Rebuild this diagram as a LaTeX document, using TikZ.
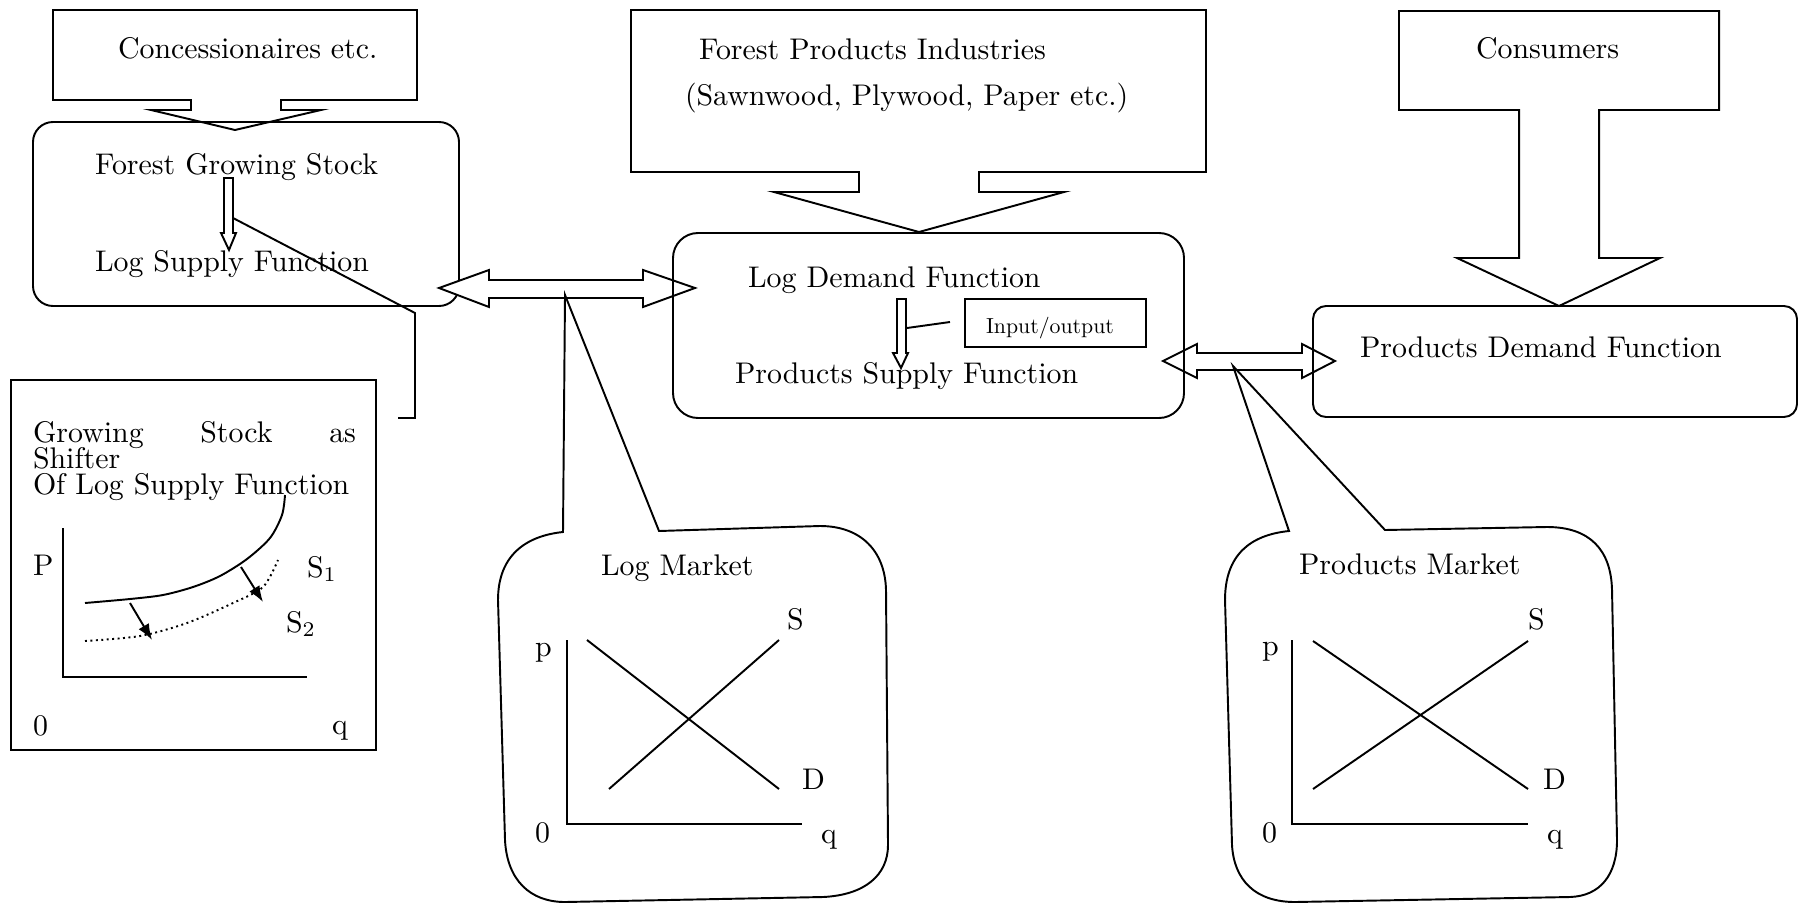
\documentclass[tikz,border=0pt]{standalone}
\usetikzlibrary{arrows.meta}
\newcommand{\lbltxt}[1]{\scalebox{0.85}{#1}}
\begin{document}
\begin{tikzpicture}[x=0.1mm,y=-0.1mm,line width=0.55pt,line join=miter,
  txt/.style={inner sep=0pt,outer sep=0pt,font=\fontsize{10}{12}\selectfont},
  smalltxt/.style={inner sep=0pt,outer sep=0pt,font=\fontsize{10}{12}\selectfont},
  blockshape/.style={draw=black,fill=white},
  shiftarrow/.style={-{Latex[length=1.6mm,width=1.2mm]}}]
\useasboundingbox (0,0) rectangle (1798,903);
\fill[white] (0,0) rectangle (1798,903);

% ---------- Concessionaires block arrow ----------
\path[blockshape] (53,10) -- (417,10) -- (417,100) -- (281,100) -- (281,110) -- (321,110)
  -- (235,130) -- (151,110) -- (191,110) -- (191,100) -- (53,100) -- cycle;
\node[txt,anchor=base west] (conc) at (118,59) {\lbltxt{Concessionaires etc.}};

% ---------- Forest Growing Stock box ----------
\draw[rounded corners=2mm] (33,122) rectangle (459,306);
\node[txt,anchor=base west] (fgs) at (95,175) {\lbltxt{Forest Growing Stock}};
\node[txt,anchor=base west] (lsf) at (95,271) {\lbltxt{Log Supply Function}};
\path[blockshape] (224,178) -- (233,178) -- (233,233) -- (236,233) -- (229,250) -- (221,233) -- (224,233) -- cycle;
\coordinate (calloutA) at (233,218);
\coordinate (calloutB) at (415,313);
\coordinate (calloutC) at (415,418);
\coordinate (calloutD) at (398,418);
\draw (calloutA) -- (calloutB) -- (calloutC) -- (calloutD);

% ---------- Growing stock as shifter box ----------
\draw (11,380) rectangle (376,750);
\node[txt,anchor=base west] (gs1) at (33,442) {\lbltxt{\makebox[38mm][s]{Growing Stock as}}};
\node[txt,anchor=base west] (gs2) at (33,468) {\lbltxt{Shifter}};
\node[txt,anchor=base west] (gs3) at (33,494) {\lbltxt{Of Log Supply Function}};
\draw (63,528) -- (63,677) -- (307,677);
\draw plot[smooth] coordinates {(85,603) (130,599) (163,595) (193,587) (220,576) (247,559) (270,538) (282,515) (285,495)};
\draw[densely dotted] plot[smooth] coordinates {(85,641) (140,636) (187,623) (233,603) (263,587) (278,560)};
\draw[shiftarrow] (130,603) -- (152,640);
\draw[shiftarrow] (241,567) -- (263,602);
\node[txt,anchor=base west] (gP) at (33,575) {\lbltxt{P}};
\node[txt,anchor=base west] (g0) at (33,735) {\lbltxt{0}};
\node[txt,anchor=base west] (gq) at (332,734) {\lbltxt{q}};
\node[txt,anchor=base west] (gS1) at (307,577) {\lbltxt{S$_{1}$}};
\node[txt,anchor=base west] (gS2) at (286,632) {\lbltxt{S$_{2}$}};

% ---------- Left double arrow ----------
\path[blockshape] (439,288) -- (489,270) -- (489,280) -- (643,280) -- (643,270) -- (695,288)
  -- (643,307) -- (643,298) -- (489,298) -- (489,307) -- cycle;

% ---------- Right double arrow ----------
\path[blockshape] (1163,361) -- (1197,344) -- (1197,353) -- (1302,353) -- (1302,344) -- (1335,361)
  -- (1302,378) -- (1302,370) -- (1197,370) -- (1197,378) -- cycle;

% ---------- Forest Products Industries block arrow ----------
\path[blockshape] (631,10) -- (1206,10) -- (1206,172) -- (979,172) -- (979,192) -- (1064,192)
  -- (919,232) -- (774,192) -- (859,192) -- (859,172) -- (631,172) -- cycle;
\node[txt,anchor=base west] (fpi) at (699,60) {\lbltxt{Forest Products Industries}};
\node[txt,anchor=base west] (fpi2) at (685,106) {\lbltxt{(Sawnwood, Plywood, Paper etc.)}};

% ---------- Log Demand box ----------
\draw[rounded corners=2.5mm] (673,233) rectangle (1184,418);
\node[txt,anchor=base west] (ldf) at (748,287) {\lbltxt{Log Demand Function}};
\node[txt,anchor=base west] (psf) at (735,383) {\lbltxt{Products Supply Function}};
\path[blockshape] (897,299) -- (906,299) -- (906,353) -- (908,353) -- (901,368) -- (893,353) -- (897,353) -- cycle;
\node[draw,minimum width=18.1mm,minimum height=4.8mm,inner sep=0pt] (io) at (1055.5,323) {};
\node[smalltxt,anchor=base] (iotxt) at (1050,333) {\scalebox{0.62}{Input/output}};
\coordinate (ioline) at (950,322);
\coordinate (ioarrow) at (907,328);
\draw (ioarrow) -- (ioline);

% ---------- Consumers block arrow ----------
\path[blockshape] (1399,11) -- (1719,11) -- (1719,110) -- (1599,110) -- (1599,258) -- (1660,258)
  -- (1559,306) -- (1457,258) -- (1519,258) -- (1519,110) -- (1399,110) -- cycle;
\node[txt,anchor=base west] (cons) at (1476,59) {\lbltxt{Consumers}};

% ---------- Products Demand box ----------
\draw[rounded corners=1.3mm] (1313,306) rectangle (1797,417);
\node[txt,anchor=base west] (pdf) at (1360,357) {\lbltxt{Products Demand Function}};

% ---------- Log Market callout ----------
\draw (565,295) -- (563,532) .. controls (525,536) and (498,556) .. (498,600)
  -- (505,840) .. controls (507,880) and (530,902) .. (565,902)
  -- (823,897) .. controls (865,895) and (888,875) .. (888,845)
  -- (886,590) .. controls (885,550) and (860,526) .. (820,526)
  -- (659,531) -- cycle;
\node[txt,anchor=base west] (lm) at (601,575) {\lbltxt{Log Market}};
\draw (567,640) -- (567,824) -- (802,824);
\draw (587,640) -- (779,789);
\draw (609,789) -- (779,640);
\node[txt,anchor=base west] (lmS) at (787,629) {\lbltxt{S}};
\node[txt,anchor=base west] (lmD) at (802,789) {\lbltxt{D}};
\node[txt,anchor=base west] (lmp) at (535,656) {\lbltxt{p}};
\node[txt,anchor=base west] (lm0) at (535,842) {\lbltxt{0}};
\node[txt,anchor=base west] (lmq) at (821,843) {\lbltxt{q}};

% ---------- Products Market callout ----------
\draw (1233,366) -- (1289,531) .. controls (1250,535) and (1225,555) .. (1225,600)
  -- (1232,845) .. controls (1234,880) and (1255,902) .. (1295,902)
  -- (1570,897) .. controls (1600,896) and (1617,875) .. (1617,840)
  -- (1612,590) .. controls (1611,550) and (1590,527) .. (1547,527)
  -- (1385,530) -- cycle;
\node[txt,anchor=base west] (pm) at (1299,574) {\lbltxt{Products Market}};
\draw (1292,640) -- (1292,824) -- (1528,824);
\draw (1313,641) -- (1528,789);
\draw (1313,789) -- (1528,641);
\node[txt,anchor=base west] (pmS) at (1528,629) {\lbltxt{S}};
\node[txt,anchor=base west] (pmD) at (1543,789) {\lbltxt{D}};
\node[txt,anchor=base west] (pmp) at (1262,655) {\lbltxt{p}};
\node[txt,anchor=base west] (pm0) at (1262,842) {\lbltxt{0}};
\node[txt,anchor=base west] (pmq) at (1547,843) {\lbltxt{q}};
\end{tikzpicture}
\end{document}
